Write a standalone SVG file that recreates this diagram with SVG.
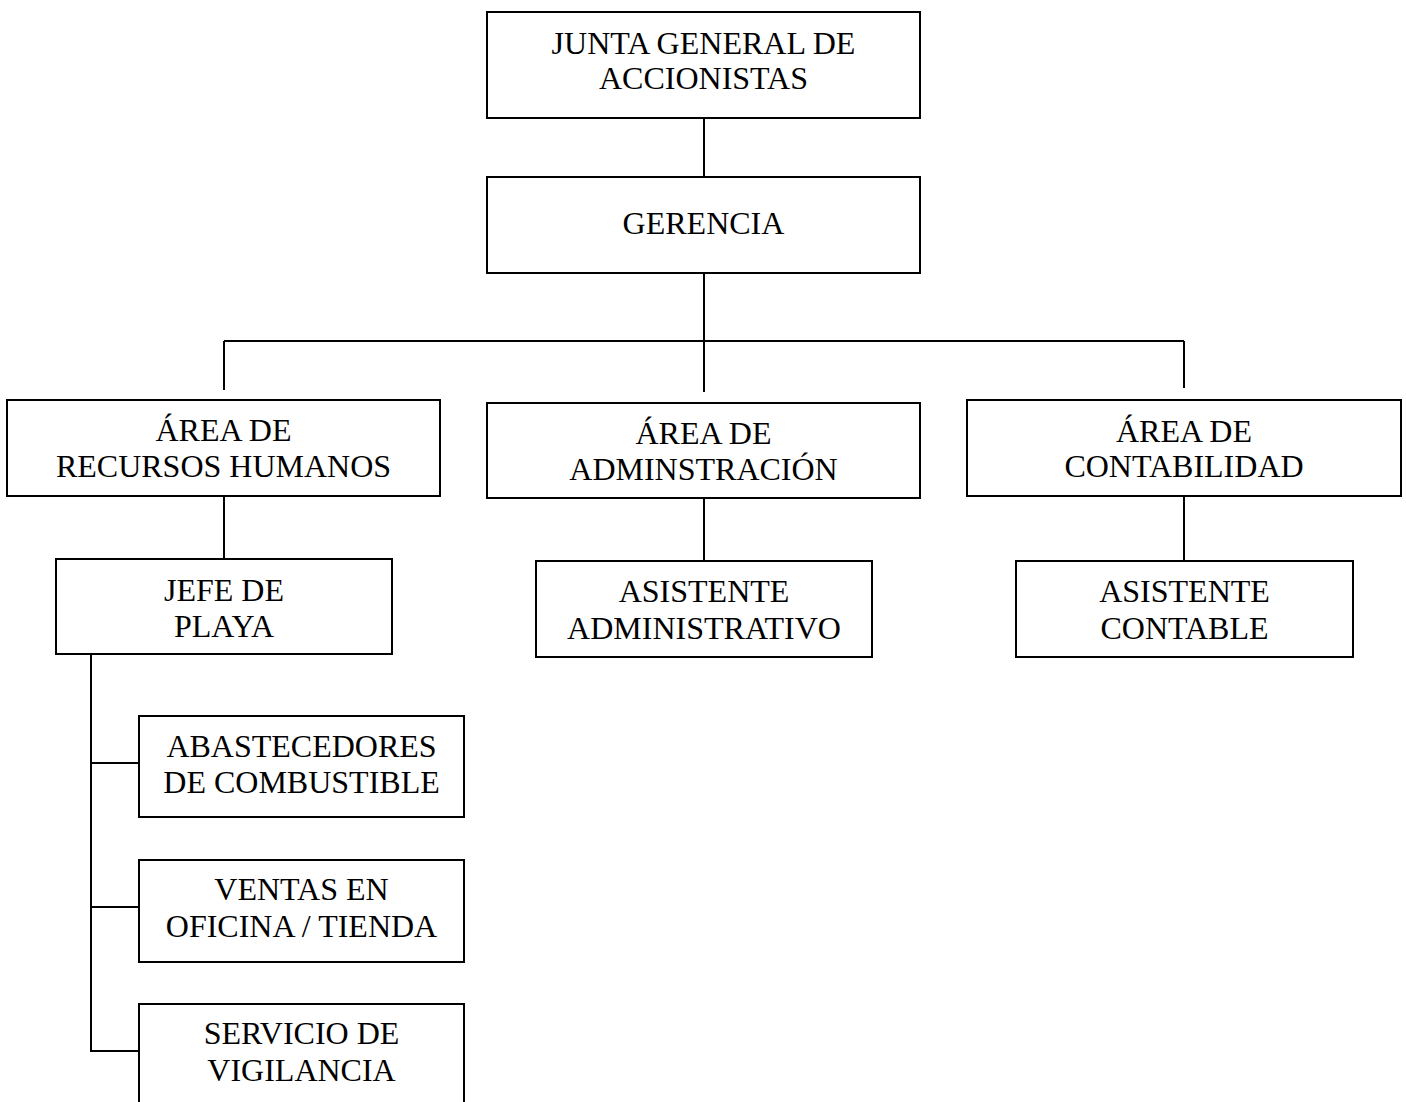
<svg xmlns="http://www.w3.org/2000/svg" width="1406" height="1102" viewBox="0 0 1406 1102">
<style>
rect{fill:#fff;stroke:#000;stroke-width:2}
.c line,.c path{stroke:#000;stroke-width:2;fill:none}
text{font-family:"Liberation Serif","Times New Roman",serif;font-size:32px;fill:#000;text-anchor:middle}
</style>
<rect x="0" y="0" width="1406" height="1102" style="stroke:none"/>
<g class="c" id="connectors">
<line x1="704" y1="118" x2="704" y2="180"/>
<line x1="704" y1="273" x2="704" y2="392"/>
<line x1="224" y1="341" x2="1184" y2="341"/>
<line x1="224" y1="341" x2="224" y2="390"/>
<line x1="1184" y1="341" x2="1184" y2="388"/>
<line x1="224" y1="496" x2="224" y2="559"/>
<line x1="704" y1="498" x2="704" y2="561"/>
<line x1="1184" y1="496" x2="1184" y2="561"/>
<path d="M91 654 V1051 H139 M91 763 H139 M91 907 H139"/>
</g>
<g id="junta"><rect x="487" y="12" width="433" height="106"/><text x="703.5" y="54">JUNTA GENERAL DE</text><text x="703.5" y="89">ACCIONISTAS</text></g>
<g id="gerencia"><rect x="487" y="177" width="433" height="96"/><text x="703.5" y="234">GERENCIA</text></g>
<g id="rrhh"><rect x="7" y="400" width="433" height="96"/><text x="223.5" y="441">ÁREA DE</text><text x="223.5" y="477">RECURSOS HUMANOS</text></g>
<g id="admin"><rect x="487" y="403" width="433" height="95"/><text x="703.5" y="444">ÁREA DE</text><text x="703.5" y="480">ADMINSTRACIÓN</text></g>
<g id="contab"><rect x="967" y="400" width="434" height="96"/><text x="1184" y="442">ÁREA DE</text><text x="1184" y="477">CONTABILIDAD</text></g>
<g id="jefe"><rect x="56" y="559" width="336" height="95"/><text x="224" y="601">JEFE DE</text><text x="224" y="637">PLAYA</text></g>
<g id="asist-admin"><rect x="536" y="561" width="336" height="96"/><text x="704" y="602">ASISTENTE</text><text x="704" y="639">ADMINISTRATIVO</text></g>
<g id="asist-contable"><rect x="1016" y="561" width="337" height="96"/><text x="1184.5" y="602">ASISTENTE</text><text x="1184.5" y="639">CONTABLE</text></g>
<g id="abastecedores"><rect x="139" y="716" width="325" height="101"/><text x="301.5" y="757">ABASTECEDORES</text><text x="301.5" y="793">DE COMBUSTIBLE</text></g>
<g id="ventas"><rect x="139" y="860" width="325" height="102"/><text x="301.5" y="900">VENTAS EN</text><text x="301.5" y="937">OFICINA / TIENDA</text></g>
<g id="servicio"><rect x="139" y="1004" width="325" height="120"/><text x="301.5" y="1044">SERVICIO DE</text><text x="301.5" y="1081">VIGILANCIA</text></g>
</svg>
